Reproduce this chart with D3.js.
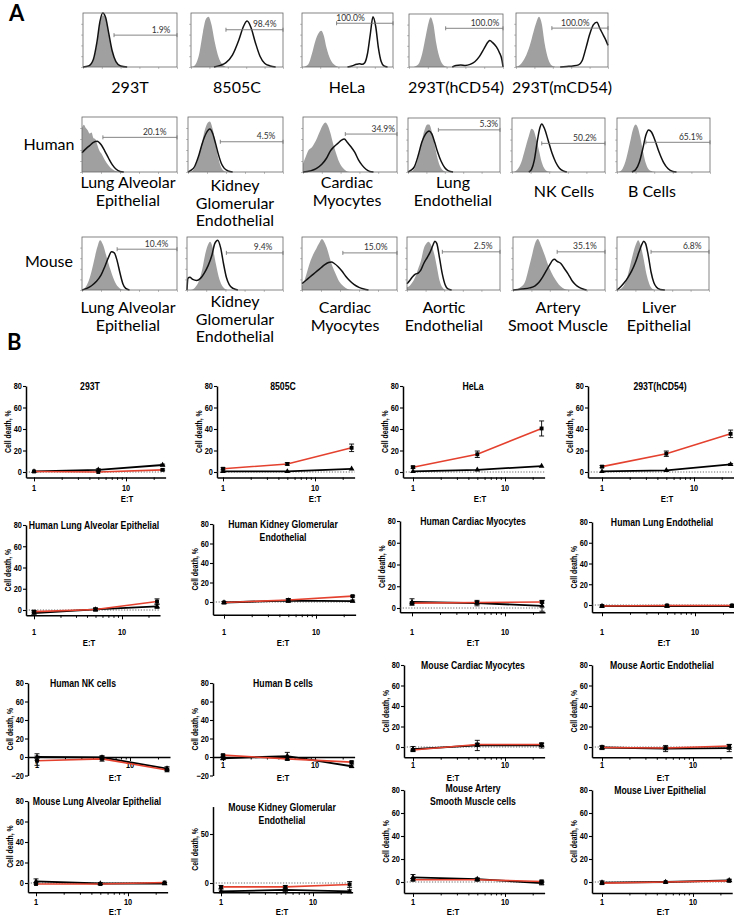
<!DOCTYPE html>
<html><head><meta charset="utf-8">
<script src="https://cdn.jsdelivr.net/npm/d3@7"></script>
<style>body{margin:0;background:#fff} svg{display:block}</style>
</head><body><svg id="c" width="734" height="916"></svg>
<script>
// ================= DATA: panel A (flow histograms, x/y in % of plot box) =================
const histLabels = [
  ["293T"],["8505C"],["HeLa"],["293T(hCD54)"],["293T(mCD54)"],
  ["Lung Alveolar","Epithelial"],["Kidney","Glomerular","Endothelial"],["Cardiac","Myocytes"],["Lung","Endothelial"],["NK Cells"],["B Cells"],
  ["Lung Alveolar","Epithelial"],["Kidney","Glomerular","Endothelial"],["Cardiac","Myocytes"],["Aortic","Endothelial"],["Artery","Smoot Muscle"],["Liver","Epithelial"]
];
const histPct = ["1.9%","98.4%","100.0%","100.0%","100.0%","20.1%","4.5%","34.9%","5.3%","50.2%","65.1%","10.4%","9.4%","15.0%","2.5%","35.1%","6.8%"];
const gateStart = [33,38,38,39,39,22,34,45,33,32,31,37,41,43,38,48,37];
const gateLevel = [59,69,81,73,72,63,55,69,78,53,55,77,70,70,72,72,72];
const pctRight  = [93,93,69,96,80,89,92,98,98,91,92,91,89,90,92,91,92];
const rowNames = ["Human","Mouse"];
const histGrey = [
  [[0,0],[6,2],[11,12],[15,45],[18,80],[21,96],[24,90],[27,65],[31,30],[35,9],[40,2],[46,0]],
  [[0,0],[4,3],[9,25],[13,65],[16,88],[19,93],[22,80],[26,45],[30,18],[34,5],[38,0]],
  [[2,0],[7,5],[11,25],[15,50],[18,62],[21,67],[24,58],[27,35],[31,15],[35,5],[40,0]],
  [[5,0],[10,5],[14,25],[18,60],[21,85],[23,94],[26,80],[29,45],[33,15],[37,3],[42,0]],
  [[0,0],[5,5],[10,18],[15,40],[19,65],[22,82],[25,93],[28,80],[31,45],[35,15],[39,3],[44,0]],
  [[0,80],[2,86],[4,80],[6,76],[8,70],[10,72],[12,62],[14,60],[16,50],[18,40],[21,32],[24,22],[28,12],[32,5],[37,1],[42,0]],
  [[2,0],[6,5],[10,20],[14,48],[18,78],[21,90],[23,92],[26,78],[29,50],[32,25],[35,8],[39,1],[43,0]],
  [[0,15],[3,28],[6,40],[9,44],[12,52],[15,62],[18,74],[21,85],[24,90],[26,86],[29,72],[32,52],[35,35],[38,20],[42,8],[46,2],[50,0]],
  [[2,0],[6,4],[10,20],[14,50],[18,78],[21,88],[23,88],[26,74],[29,50],[32,26],[35,10],[39,2],[43,0]],
  [[2,0],[6,5],[10,18],[14,42],[18,66],[21,80],[23,78],[26,62],[29,40],[32,18],[35,6],[39,1],[43,0]],
  [[2,0],[6,6],[10,25],[14,55],[17,78],[20,88],[22,84],[25,65],[28,38],[31,16],[34,5],[38,1],[42,0]],
  [[0,0],[4,6],[8,22],[12,50],[16,80],[19,94],[22,86],[26,62],[30,38],[34,18],[38,6],[42,1],[46,0]],
  [[4,0],[8,4],[12,15],[16,40],[19,68],[22,86],[24,91],[27,78],[30,50],[33,25],[36,10],[39,3],[43,0]],
  [[0,8],[3,20],[6,38],[9,55],[12,68],[15,78],[18,88],[21,96],[23,92],[26,80],[29,62],[32,45],[35,32],[38,20],[42,10],[46,4],[50,1],[54,0]],
  [[0,5],[3,8],[6,15],[9,25],[12,40],[15,55],[18,78],[21,88],[23,91],[26,85],[29,70],[32,45],[35,18],[38,5],[41,0]],
  [[3,0],[8,5],[13,15],[17,40],[21,68],[24,88],[27,96],[30,86],[34,68],[38,48],[42,32],[46,20],[50,10],[54,4],[58,1],[62,0]],
  [[2,0],[6,5],[10,18],[14,44],[18,72],[21,88],[23,94],[26,82],[29,58],[32,30],[35,12],[38,3],[42,0]]
];
const histBlack = [
  [[0,0],[6,2],[11,14],[15,48],[18,84],[21,100],[24,92],[27,66],[31,30],[35,10],[40,2],[47,0]],
  [[25,0],[32,3],[38,8],[45,22],[52,50],[57,75],[61,85],[65,74],[70,45],[75,20],[80,7],[86,2],[92,0]],
  [[50,0],[55,2],[60,5],[63,6],[66,5],[69,8],[72,25],[75,60],[78,93],[81,75],[84,35],[87,10],[90,2],[94,0]],
  [[46,0],[50,3],[55,4],[60,3],[65,5],[70,10],[75,20],[80,35],[84,47],[86,50],[89,46],[93,38],[96,28],[99,12],[100,0]],
  [[48,0],[55,1],[62,2],[68,4],[72,12],[76,35],[80,60],[84,78],[88,83],[91,72],[94,62],[97,52],[100,40]],
  [[0,35],[4,42],[8,48],[12,54],[16,56],[20,50],[24,38],[28,25],[32,13],[36,5],[40,1],[44,0]],
  [[0,0],[3,3],[7,10],[11,28],[15,52],[19,70],[23,78],[26,70],[29,52],[32,32],[35,16],[38,7],[42,2],[47,0]],
  [[0,0],[8,2],[14,6],[20,14],[25,25],[29,38],[33,46],[37,52],[41,58],[44,60],[47,54],[51,46],[55,36],[59,22],[63,12],[67,5],[71,1],[75,0]],
  [[0,0],[3,3],[7,10],[11,30],[15,55],[19,70],[23,76],[26,70],[29,55],[32,38],[36,20],[40,8],[44,2],[49,0]],
  [[18,0],[21,5],[24,22],[27,55],[30,82],[32,89],[35,80],[39,58],[43,35],[47,18],[51,7],[55,2],[59,0]],
  [[16,0],[20,4],[24,18],[28,45],[31,68],[34,78],[37,74],[41,58],[45,38],[50,18],[55,6],[60,1],[64,0]],
  [[0,0],[5,3],[10,8],[15,16],[20,28],[24,44],[28,62],[31,72],[34,70],[37,55],[40,32],[43,12],[46,3],[50,0]],
  [[0,0],[1,22],[3,24],[6,20],[10,18],[14,22],[18,32],[22,46],[26,66],[29,88],[32,94],[35,80],[38,50],[41,24],[44,10],[48,3],[53,0]],
  [[0,12],[4,18],[8,24],[12,30],[16,36],[20,42],[24,48],[28,52],[31,53],[34,50],[38,44],[42,36],[46,26],[50,18],[55,10],[60,5],[65,2],[70,0]],
  [[0,12],[3,18],[6,25],[9,30],[12,32],[15,38],[18,50],[22,62],[25,72],[28,85],[30,92],[32,88],[35,60],[38,30],[41,10],[44,2],[48,0]],
  [[0,0],[10,2],[18,4],[24,8],[28,14],[32,24],[36,36],[40,48],[43,56],[45,58],[48,54],[52,50],[56,40],[60,30],[64,18],[68,10],[72,5],[76,2],[80,0]],
  [[0,0],[4,6],[8,14],[12,24],[16,36],[20,52],[24,72],[27,86],[29,92],[31,88],[34,65],[37,34],[40,14],[43,5],[47,1],[52,0]]
];

// ================= DATA: panel B (cell death %, E:T = 1, 5, 25) =================
const etRatio = [1, 5, 25];
const xTickLabels = [1, 10];
const xMinorTicks = [2,3,4,5,6,7,8,9,20];
const plotTitles = [
  ["293T"],["8505C"],["HeLa"],["293T(hCD54)"],
  ["Human Lung Alveolar Epithelial"],["Human Kidney Glomerular","Endothelial"],["Human Cardiac Myocytes"],["Human Lung Endothelial"],
  ["Human NK cells"],["Human B cells"],["Mouse Cardiac Myocytes"],["Mouse Aortic Endothelial"],
  ["Mouse Lung Alveolar Epithelial"],["Mouse Kidney Glomerular","Endothelial"],["Mouse Artery","Smooth Muscle cells"],["Mouse Liver Epithelial"]
];
const yTickSets = [
  [0,20,40,60,80],[0,20,40,60,80],[0,20,40,60,80],[0,20,40,60,80],
  [0,20,40,60,80],[0,20,40,60,80],[0,20,40,60,80],[0,20,40,60,80],
  [-20,0,20,40,60,80],[-20,0,20,40,60,80],[0,20,40,60,80],[0,20,40,60,80],
  [0,20,40,60,80],[0,50],[0,20,40,60,80],[0,20,40,60,80]
];
const redMean = [
  [0.5,0,2],[3,7.5,22.5],[4.5,16.5,40.5],[5,17,35.5],
  [-1.5,0.5,8],[-0.5,2,6],[4.5,5,5.5],[-1,-0.5,-0.5],
  [-4,-2,-14],[2,-2,-5.5],[-3,2.5,2.5],[-0.5,-1,1],
  [-1,-1,0.5],[-4,-4,-1.5],[2,2,0.5],[-1,0,1]
];
const redErr = [
  [0.5,0.5,0.8],[1,1.2,3.5],[1,3,7],[1,2.5,3.5],
  [1,1,2.5],[0.5,1,0.8],[1,1,1],[0.5,0.5,0.5],
  [5,2.5,2],[1,1.5,1],[1,1,1],[1,1,1.5],
  [0.5,0.5,0.5],[1.5,1.5,3],[1,1,1],[0.5,0.5,0.8]
];
const blackMean = [
  [0.5,2,6.5],[0.5,0.5,3],[0.5,2,5.5],[0.5,1.5,7],
  [-3,0.5,3.5],[-0.5,1.5,1],[5.5,4.5,2],[-1,-1,-1],
  [0,-0.5,-12.5],[-1.5,1,-10],[-2,1.5,1.5],[-0.5,-1.5,-1],
  [1.5,-0.5,-0.5],[-8.5,-7,-8.5],[4,2.5,-1],[-0.5,0,1.5]
];
const blackErr = [
  [0.5,1,0.8],[0.3,0.3,0.5],[0.5,0.5,0.5],[0.3,0.5,0.8],
  [2,1.5,2],[1,2,1],[3,2.5,5],[1,1.2,1.2],
  [3.5,2,2],[1.5,4,1.5],[2.5,5,2.5],[2,3,3.5],
  [2.5,1,1],[1.5,2,1.5],[2.5,1,1.5],[1.5,0.5,1]
];

// ================= LAYOUT =================
const histBoxes = [
  [83,177,13,67],[191,283,13,67],[302,393,13,67],[409,503,14,67],[516,608,13,67],
  [82,177,117,172],[188,283,117,172],[303,397,117,172],[408,500,118,172],[512,605,118,172],[617,710,118,172],
  [82,177,237,290],[187,283,237,290],[302,397,237,290],[407,500,237,290],[513,605,237,290],[617,709,237,290]
];
const histLabelPos = [
  [130,93],[237,93],[347,93],[456,93],[562,93],
  [128,188],[235,191],[347,188],[453,188],[564,197],[652,197],
  [128,313],[235,307],[345,313],[444,313],[558,313],[659,313]
];
const rowNamePos = [[49,150],[49,267]];
const plotFrames = [
  {ax:26, x1:34, dec:92, top:386, zero:472, tv:80, ymin:-5},
  {ax:217,x1:223,dec:92, top:386, zero:472, tv:80, ymin:-5},
  {ax:403,x1:413,dec:92, top:386, zero:472, tv:80, ymin:-5},
  {ax:588,x1:602,dec:92, top:386, zero:472, tv:80, ymin:-5},
  {ax:26, x1:34, dec:88, top:525, zero:610, tv:80, ymin:-5},
  {ax:213,x1:224,dec:92, top:524, zero:602, tv:80, ymin:-13},
  {ax:400,x1:412,dec:93, top:521, zero:608, tv:80, ymin:-4},
  {ax:592,x1:602,dec:93, top:522, zero:605, tv:80, ymin:-7},
  {ax:28, x1:37, dec:93, top:683, zero:757, tv:80, ymin:-20, atZero:true},
  {ax:213,x1:223,dec:92, top:683, zero:757, tv:80, ymin:-20, atZero:true},
  {ax:404,x1:413,dec:92, top:665, zero:747, tv:80, ymin:-10},
  {ax:592,x1:602,dec:91, top:665, zero:747, tv:80, ymin:-10},
  {ax:28, x1:36, dec:92, top:801, zero:883, tv:80, ymin:-9},
  {ax:213,x1:221,dec:92, top:834, zero:883, tv:50, ymin:-9.5, tmax:78},
  {ax:404,x1:413,dec:92, top:790, zero:882, tv:80, ymin:-9.5},
  {ax:592,x1:602,dec:91, top:790, zero:882, tv:80, ymin:-9.5}
];
const titlePos = [[90,390],[283,390],[473,390],[660,390],[94,529],[283,528],[473,525],[662,526],
                  [83,687],[283,687],[473,669],[662,669],[97,805],[282,811],[473,792],[660,794]];
const etPos = [[127,502,491],[315,502,491],[480,502,491],[667,502,491],
               [89,646,635],[283,646,635],[473,646,635],[664,646,635],
               [115,781,768],[283,781,768],[453,781,768],[663,781,768],
               [115,915,905],[282,915,905],[453,915,905],[663,915,905]];

const RED = "#e4412f";
const svg = d3.select("#c");
const FA = "Lato, 'Open Sans', sans-serif";
const FB = "'Liberation Sans', Arial, sans-serif";

svg.append("text").attr("x",9).attr("y",21).style("font",`bold 22px ${FA}`).text("A");
svg.append("text").attr("x",7).attr("y",350).style("font",`bold 22px ${FA}`).text("B");

// ---------- Panel A ----------
rowNames.forEach((n,i)=>{
  svg.append("text").attr("x",rowNamePos[i][0]).attr("y",rowNamePos[i][1]).attr("text-anchor","middle")
    .style("font",`16px ${FA}`).text(n);
});
histBoxes.forEach((b,i)=>{
  const g = svg.append("g");
  const x = d3.scaleLinear().domain([0,100]).range([b[0],b[1]]);
  const y = d3.scaleLinear().domain([0,100]).range([b[3],b[2]]);
  const ya = g.append("g").attr("transform",`translate(${b[0]},0)`)
    .call(d3.axisLeft(y).tickValues([0,20,40,60,80]).tickSize(2).tickFormat(""));
  const xa = g.append("g").attr("transform",`translate(0,${b[3]})`)
    .call(d3.axisBottom(x).tickValues([0,20,40,60,80,100]).tickSize(2).tickFormat(""));
  [ya,xa].forEach(a=>{a.select(".domain").remove(); a.selectAll("line").attr("stroke","#999").attr("stroke-width",0.6);});
  const area = d3.area().x(d=>x(d[0])).y0(y(0)).y1(d=>y(d[1])).curve(d3.curveMonotoneX);
  const line = d3.line().x(d=>x(d[0])).y(d=>y(d[1])).curve(d3.curveMonotoneX);
  g.append("path").attr("d",area(histGrey[i])).attr("fill","#a0a0a0");
  g.append("path").attr("d",line(histBlack[i])).attr("fill","none").attr("stroke","#111").attr("stroke-width",1.5);
  g.append("rect").attr("x",b[0]).attr("y",b[2]).attr("width",b[1]-b[0]).attr("height",b[3]-b[2])
    .attr("fill","none").attr("stroke","#666").attr("stroke-width",0.8);
  const gy = y(gateLevel[i]), gx0 = x(gateStart[i]), gx1 = x(100);
  g.append("line").attr("x1",gx0).attr("x2",gx1).attr("y1",gy).attr("y2",gy).attr("stroke","#777").attr("stroke-width",0.9);
  [gx0,gx1].forEach(xx=>g.append("line").attr("x1",xx).attr("x2",xx).attr("y1",gy-2).attr("y2",gy+2).attr("stroke","#777").attr("stroke-width",0.9));
  g.append("text").attr("x",x(pctRight[i])).attr("y",gy-2.5).attr("text-anchor","end")
    .style("font",`8.5px ${FA}`).attr("fill","#333").text(histPct[i]);
  histLabels[i].forEach((t,k)=>{
    g.append("text").attr("x",histLabelPos[i][0]).attr("y",histLabelPos[i][1]+k*17.5).attr("text-anchor","middle")
      .style("font",`16px ${FA}`).text(t);
  });
});

// ---------- Panel B ----------
function ctext(g,x,y,str,size,anchor,sx){
  return g.append("text").attr("transform",`translate(${x},${y}) scale(${sx||0.82},1)`)
    .attr("text-anchor",anchor).style("font",`bold ${size}px ${FB}`).text(str);
}
plotFrames.forEach((F,i)=>{
  const g = svg.append("g");
  const tmax = F.tmax || F.tv;
  const yLin = d3.scaleLinear().domain([0,F.tv]).range([F.zero,F.top]);
  const y = d3.scaleLinear().domain([F.ymin,tmax]).range([yLin(F.ymin), yLin(tmax)]);
  const base = d3.scaleLog().domain([1,10]).range([F.x1,F.x1+F.dec]);
  const xEndPx = base(25)+3;
  const x = d3.scaleLog().domain([base.invert(F.ax), base.invert(xEndPx)]).range([F.ax, xEndPx]);
  const ya = g.append("g").attr("transform",`translate(${F.ax},0)`)
    .call(d3.axisLeft(y).tickValues(yTickSets[i]).tickSize(3).tickSizeOuter(0).tickPadding(2).tickFormat(d3.format("d")));
  ya.select(".domain").attr("stroke","#000").attr("stroke-width",1.5);
  ya.selectAll(".tick line").attr("stroke","#000").attr("stroke-width",1.1);
  ya.selectAll(".tick text").style("font",`bold 9px ${FB}`).attr("fill","#000")
    .attr("transform","scale(0.82,1)");
  const xAxisY = F.atZero ? y(0) : y(F.ymin);
  const xa = g.append("g").attr("transform",`translate(0,${xAxisY})`)
    .call(d3.axisBottom(x).tickValues(xTickLabels.concat(xMinorTicks)).tickSize(4).tickSizeOuter(0).tickFormat(()=> ""));
  xa.select(".domain").attr("stroke","#000").attr("stroke-width",1.5);
  xa.selectAll(".tick line").attr("stroke","#000").attr("stroke-width",1)
    .attr("y2",d=>xTickLabels.includes(d)?4:2.5);
  xTickLabels.forEach(v=>ctext(g,x(v),etPos[i][2],String(v),9,"middle"));
  ctext(g,etPos[i][0],etPos[i][1],"E:T",9.5,"middle");
  if(!F.atZero){
    g.append("line").attr("x1",F.ax).attr("x2",xEndPx).attr("y1",y(0)).attr("y2",y(0))
      .attr("stroke","#444").attr("stroke-width",0.8).attr("stroke-dasharray","1.2,1.6");
  }
  const ymid = (y(tmax)+y(F.ymin))/2;
  g.append("text").attr("transform",`translate(${F.ax-15.5},${ymid}) rotate(-90) scale(0.76,1)`)
    .attr("text-anchor","middle").style("font",`bold 9px ${FB}`).text("Cell death, %");
  plotTitles[i].forEach((t,k)=>ctext(g,titlePos[i][0],titlePos[i][1]+k*12.5,t,11,"middle",0.79));
  const series = [
    {m:blackMean[i], e:blackErr[i], col:"#000", w:1.8, sym:d3.symbolTriangle, sz:14},
    {m:redMean[i], e:redErr[i], col:RED, w:1.6, sym:d3.symbolSquare, sz:15}
  ];
  const ln = d3.line().x((d,k)=>x(etRatio[k])).y(d=>y(d));
  series.forEach(s=>{
    g.append("path").attr("d",ln(s.m)).attr("fill","none").attr("stroke",s.col).attr("stroke-width",s.w);
  });
  series.forEach(s=>{
    s.m.forEach((v,k)=>{
      const cx = x(etRatio[k]);
      const e = s.e[k];
      if(e>0.6){
        g.append("line").attr("x1",cx).attr("x2",cx).attr("y1",y(v-e)).attr("y2",y(v+e)).attr("stroke","#000").attr("stroke-width",0.9);
        [v-e,v+e].forEach(q=>g.append("line").attr("x1",cx-2.5).attr("x2",cx+2.5).attr("y1",y(q)).attr("y2",y(q)).attr("stroke","#000").attr("stroke-width",0.9));
      }
      g.append("path").attr("transform",`translate(${cx},${y(v)})`).attr("d",d3.symbol().type(s.sym).size(s.sz)()).attr("fill","#000");
    });
  });
});
</script></body></html>
